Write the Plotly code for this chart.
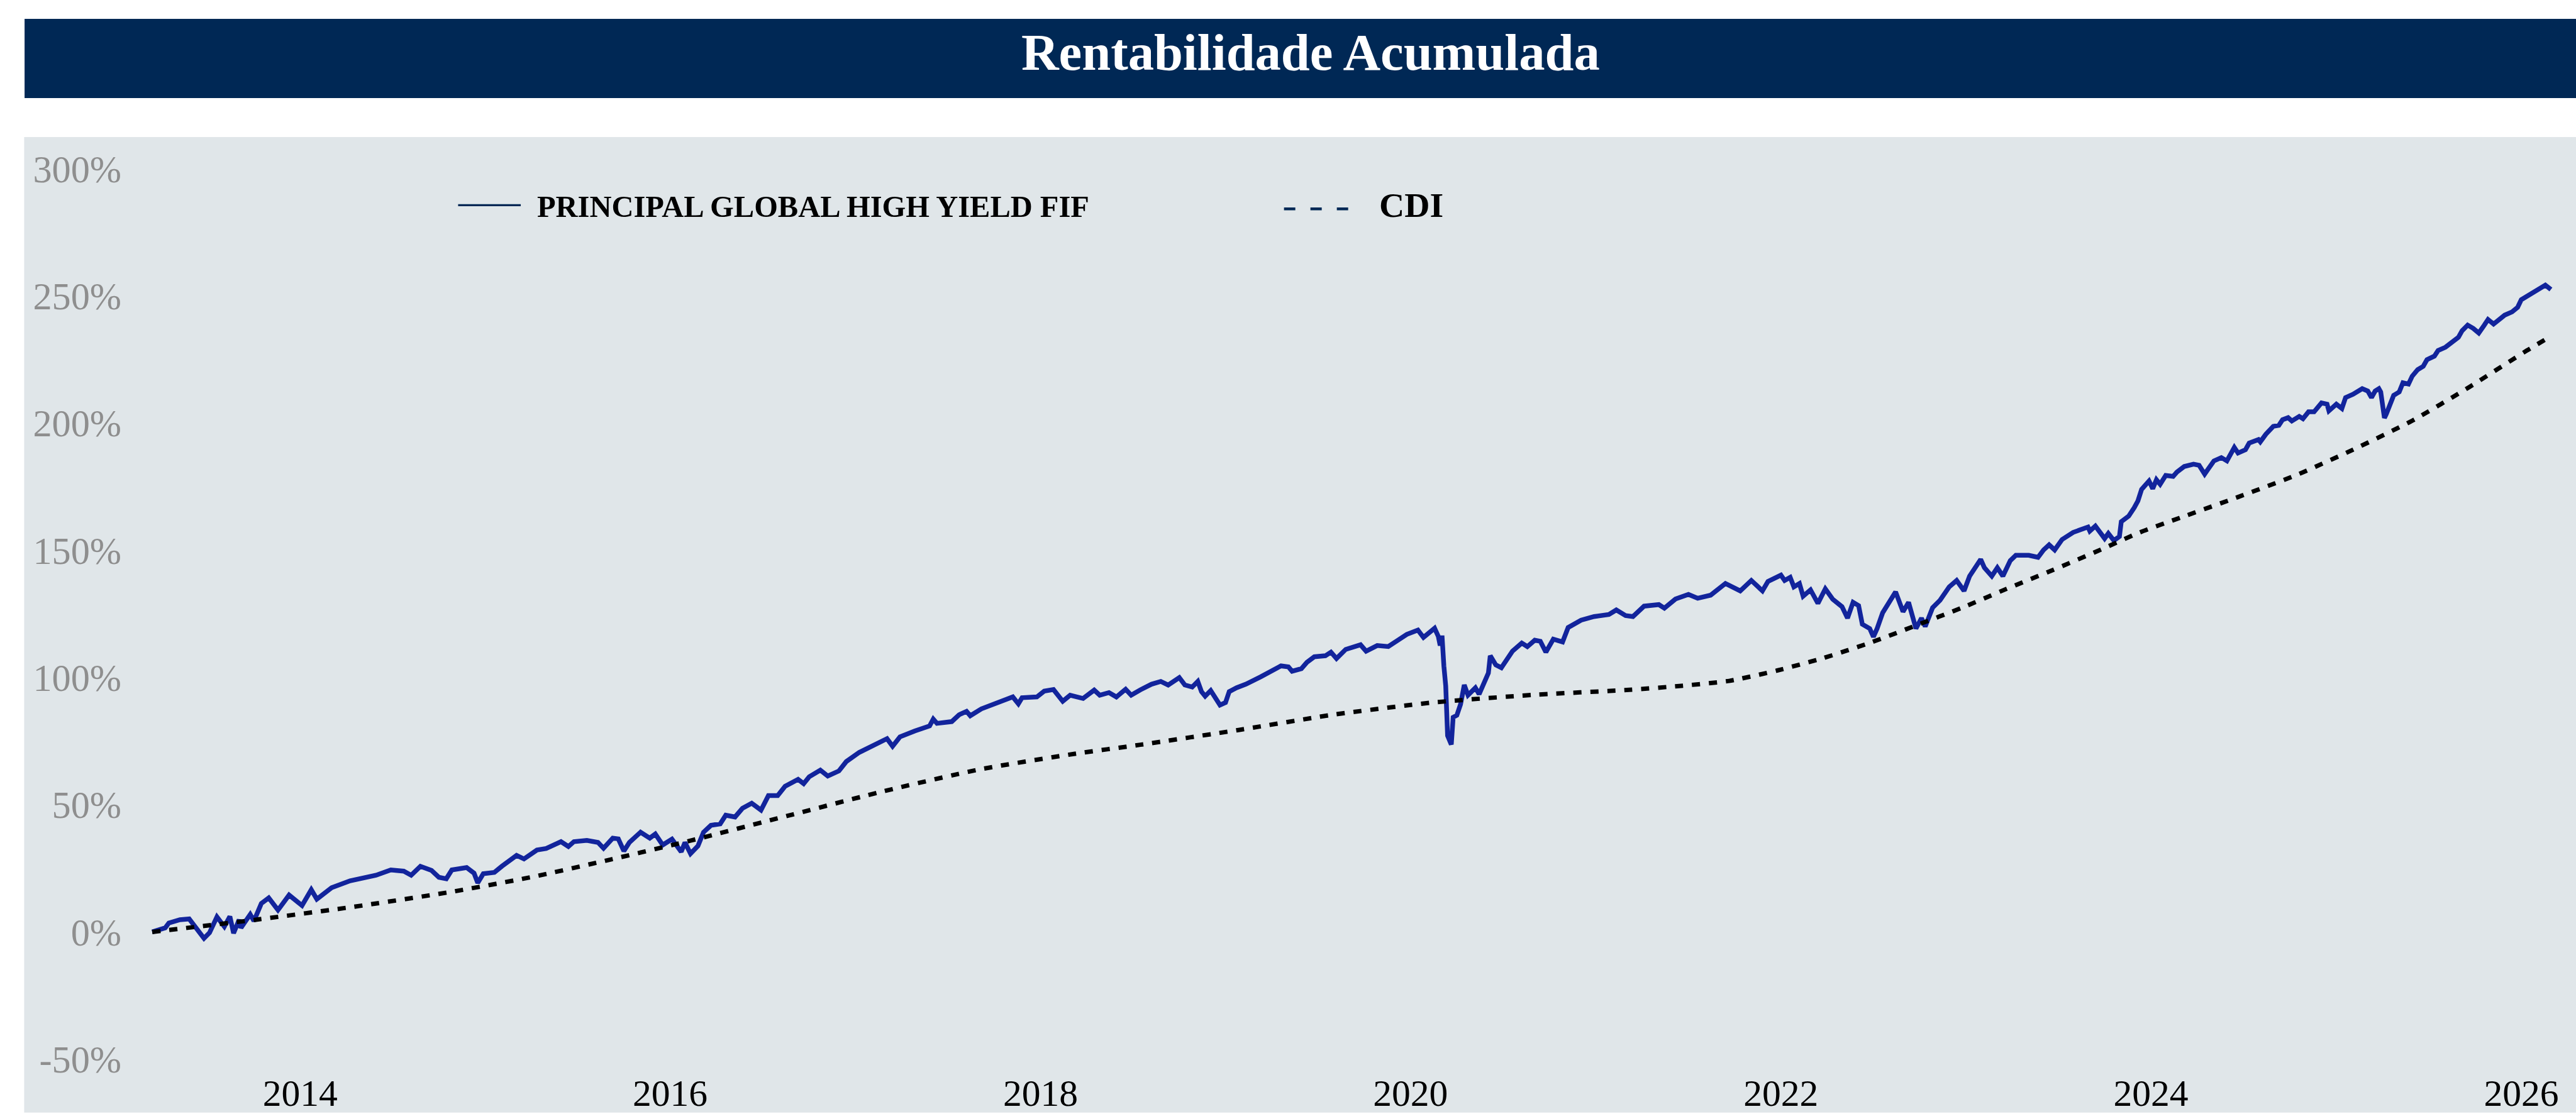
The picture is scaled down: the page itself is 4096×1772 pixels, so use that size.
import plotly.graph_objects as go
import pandas as pd

# ---------------- data (decimal year, cumulative return %) ----------------
fund_t = [2013.20, 2013.27, 2013.29, 2013.35, 2013.40, 2013.45, 2013.48, 2013.51, 2013.55, 2013.59,
          2013.62, 2013.64, 2013.67, 2013.68, 2013.73, 2013.75, 2013.79, 2013.83, 2013.88, 2013.94,
          2014.01, 2014.06, 2014.09, 2014.17, 2014.27, 2014.41, 2014.49, 2014.56, 2014.60, 2014.65,
          2014.71, 2014.75, 2014.79, 2014.82, 2014.90, 2014.94, 2014.96, 2014.99, 2015.05, 2015.09,
          2015.17, 2015.21, 2015.28, 2015.33, 2015.41, 2015.45, 2015.48, 2015.55, 2015.61, 2015.64,
          2015.69, 2015.72, 2015.75, 2015.78, 2015.84, 2015.89, 2015.92, 2015.96, 2016.01, 2016.06,
          2016.08, 2016.11, 2016.15, 2016.18, 2016.22, 2016.27, 2016.30, 2016.35, 2016.39, 2016.44,
          2016.49, 2016.53, 2016.58, 2016.62, 2016.69, 2016.72, 2016.75, 2016.81, 2016.85, 2016.91,
          2016.95, 2017.02, 2017.14, 2017.17, 2017.20, 2017.24, 2017.32, 2017.40, 2017.42, 2017.44,
          2017.52, 2017.56, 2017.60, 2017.62, 2017.68, 2017.77, 2017.85, 2017.88, 2017.90, 2017.98,
          2018.02, 2018.07, 2018.12, 2018.16, 2018.23, 2018.29, 2018.32, 2018.37, 2018.41, 2018.46,
          2018.49, 2018.54, 2018.60, 2018.65, 2018.69, 2018.75, 2018.78, 2018.82, 2018.85, 2018.87,
          2018.89, 2018.92, 2018.97, 2019.00, 2019.02, 2019.06, 2019.11, 2019.19, 2019.27, 2019.30,
          2019.34, 2019.36, 2019.41, 2019.44, 2019.48, 2019.54, 2019.57, 2019.60, 2019.65, 2019.73,
          2019.76, 2019.82, 2019.88, 2019.93, 2019.98, 2020.04, 2020.07, 2020.13, 2020.15, 2020.16,
          2020.17, 2020.18, 2020.19, 2020.20, 2020.22, 2020.23, 2020.25, 2020.27, 2020.29, 2020.31,
          2020.35, 2020.37, 2020.40, 2020.42, 2020.43, 2020.46, 2020.49, 2020.52, 2020.55, 2020.60,
          2020.63, 2020.67, 2020.70, 2020.73, 2020.77, 2020.82, 2020.85, 2020.92, 2020.99, 2021.07,
          2021.11, 2021.16, 2021.20, 2021.26, 2021.34, 2021.37, 2021.43, 2021.50, 2021.55, 2021.62,
          2021.66, 2021.70, 2021.78, 2021.84, 2021.90, 2021.93, 2022.00, 2022.02, 2022.05, 2022.07,
          2022.10, 2022.12, 2022.16, 2022.20, 2022.24, 2022.28, 2022.33, 2022.36, 2022.39, 2022.42,
          2022.44, 2022.48, 2022.50, 2022.52, 2022.55, 2022.62, 2022.66, 2022.69, 2022.73, 2022.76,
          2022.78, 2022.82, 2022.86, 2022.89, 2022.91, 2022.95, 2022.99, 2023.02, 2023.04, 2023.08,
          2023.10, 2023.14, 2023.17, 2023.20, 2023.24, 2023.27, 2023.34, 2023.39, 2023.42, 2023.45,
          2023.48, 2023.52, 2023.58, 2023.66, 2023.67, 2023.70, 2023.75, 2023.77, 2023.80, 2023.83,
          2023.84, 2023.88, 2023.91, 2023.93, 2023.95, 2023.97, 2023.99, 2024.01, 2024.03, 2024.05,
          2024.08, 2024.12, 2024.14, 2024.18, 2024.23, 2024.26, 2024.29, 2024.31, 2024.34, 2024.38,
          2024.41, 2024.45, 2024.47, 2024.51, 2024.53, 2024.58, 2024.59, 2024.62, 2024.66, 2024.69,
          2024.71, 2024.74, 2024.76, 2024.80, 2024.82, 2024.85, 2024.88, 2024.92, 2024.95, 2024.96,
          2025.00, 2025.03, 2025.05, 2025.09, 2025.14, 2025.17, 2025.19, 2025.21, 2025.23, 2025.24,
          2025.25, 2025.26, 2025.27, 2025.29, 2025.30, 2025.31, 2025.34, 2025.36, 2025.39, 2025.41,
          2025.44, 2025.47, 2025.49, 2025.53, 2025.55, 2025.59, 2025.62, 2025.66, 2025.68, 2025.71,
          2025.74, 2025.77, 2025.80, 2025.82, 2025.85, 2025.88, 2025.91, 2025.95, 2025.98, 2026.00,
          2026.03, 2026.06, 2026.10, 2026.13, 2026.16]
fund_v = [0.0, 1.6, 3.5, 4.8, 5.1, 0.5, -2.5, -0.3, 5.9, 2.1,
          6.1, -0.5, 4.8, 1.6, 6.9, 4.3, 11.2, 13.4, 8.6, 14.5,
          10.4, 16.6, 12.9, 17.4, 20.1, 22.3, 24.4, 23.9, 22.3, 25.8,
          24.2, 21.5, 20.9, 24.4, 25.3, 23.1, 19.3, 22.9, 23.4, 25.8,
          30.1, 28.7, 32.2, 32.8, 35.5, 33.6, 35.5, 36.0, 35.2, 32.9,
          36.9, 36.6, 31.8, 35.2, 39.2, 36.9, 38.5, 34.2, 36.5, 31.5,
          35.2, 30.8, 33.8, 39.2, 41.9, 42.5, 45.9, 45.2, 48.6, 50.6,
          47.9, 53.6, 53.6, 57.3, 60.0, 58.3, 61.0, 63.6, 61.3, 63.3,
          67.0, 70.6, 74.6, 76.0, 73.0, 76.7, 79.0, 81.0, 83.7, 82.0,
          82.7, 85.4, 86.7, 85.0, 87.7, 90.4, 92.4, 89.7, 92.1, 92.4,
          94.7, 95.3, 90.7, 93.1, 91.8, 95.1, 93.1, 94.1, 92.4, 95.4,
          93.1, 95.2, 97.4, 98.5, 97.1, 100.0, 97.1, 96.3, 98.5, 94.5,
          92.7, 94.9, 89.2, 90.2, 94.5, 96.0, 97.4, 100.3, 103.2, 104.6,
          104.2, 102.5, 103.5, 106.0, 108.2, 108.6, 110.0, 107.5, 111.1, 112.9,
          110.4, 112.6, 112.2, 114.4, 117.0, 118.7, 115.8, 119.4, 116.2, 112.6,
          116.5, 104.6, 96.7, 77.2, 73.7, 84.4, 85.2, 89.5, 97.1, 93.1,
          96.0, 93.5, 98.9, 101.8, 108.6, 105.0, 103.9, 106.8, 110.4, 113.6,
          112.2, 114.7, 114.3, 110.0, 115.1, 114.0, 119.7, 122.6, 124.0, 124.8,
          126.6, 124.4, 124.0, 128.1, 128.7, 127.3, 130.9, 132.7, 131.2, 132.4,
          134.9, 137.0, 134.1, 138.2, 134.1, 137.8, 140.3, 138.2, 139.4, 135.7,
          137.0, 132.0, 134.5, 129.2, 134.9, 130.8, 127.9, 123.4, 129.6, 128.3,
          121.0, 119.3, 116.0, 119.3, 125.5, 133.7, 125.9, 129.6, 119.3, 123.4,
          120.1, 127.5, 130.4, 134.1, 135.7, 138.2, 134.1, 139.9, 142.0, 146.5,
          143.2, 139.9, 143.2, 139.9, 146.0, 148.1, 148.1, 147.3, 150.2, 152.2,
          150.2, 154.3, 157.1, 159.2, 157.6, 159.6, 154.7, 156.7, 153.9, 155.5,
          161.3, 163.5, 166.8, 169.5, 174.0, 176.0, 177.3, 174.3, 177.8, 176.0,
          179.5, 179.1, 180.8, 183.0, 183.9, 183.5, 180.0, 182.1, 185.2, 186.5,
          185.2, 190.5, 188.3, 189.6, 192.2, 193.6, 192.7, 195.7, 198.8, 199.2,
          201.4, 202.2, 200.9, 202.7, 201.8, 204.5, 204.5, 208.0, 207.5, 204.9,
          207.5, 205.8, 210.1, 211.4, 213.6, 212.7, 210.1, 212.7, 213.6, 212.3,
          205.8, 202.1, 203.6, 207.5, 208.4, 211.0, 212.3, 215.9, 215.4, 218.5,
          221.1, 222.4, 225.0, 226.4, 228.6, 229.9, 231.6, 233.8, 236.4, 238.6,
          237.3, 235.5, 238.6, 240.8, 239.0, 240.8, 242.5, 243.8, 245.6, 248.6,
          249.9, 250.9, 253.0, 254.3, 252.6]

cdi_t = [2013.20, 2013.76, 2014.29, 2014.82, 2015.26, 2015.68, 2016.11, 2016.63, 2017.15, 2017.67,
         2018.18, 2018.54, 2019.07, 2019.59, 2020.12, 2020.66, 2021.18, 2021.45, 2021.72, 2021.98,
         2022.23, 2022.49, 2022.73, 2022.98, 2023.22, 2023.47, 2023.71, 2023.94, 2024.16, 2024.47,
         2024.78, 2025.09, 2025.41, 2025.72, 2026.03, 2026.15]
cdi_v = [0.0, 4.8, 9.9, 15.8, 21.7, 28.5, 35.9, 45.6, 55.3, 63.9,
         70.0, 73.6, 79.4, 85.5, 90.2, 93.2, 95.2, 96.7, 98.7, 102.8,
         107.7, 113.9, 120.5, 127.5, 134.9, 142.3, 149.7, 157.1, 162.9, 171.0,
         179.5, 189.6, 201.0, 214.3, 228.6, 233.8]

series_names = ["PRINCIPAL GLOBAL HIGH YIELD FIF", "CDI"]
title_text = "Rentabilidade Acumulada"
x_tick_years = [2014, 2016, 2018, 2020, 2022, 2024, 2026]
y_tick_vals = [-50, 0, 50, 100, 150, 200, 250, 300]


def yr2date(y):
    yi = int(y)
    start = pd.Timestamp(yi, 1, 1)
    ndays = (pd.Timestamp(yi + 1, 1, 1) - start).days
    return start + pd.Timedelta(days=(y - yi) * ndays)


# ---------------- layout geometry (reference px -> output px) ----------------
W, H = 4096, 1772
S = W / 6251.0
ML = 330 * S
MT = 333 * S
MB = H - 2600 * S
MR = 0
PW = W - ML - MR
PH = H - MT - MB


def px(xr):
    return (xr * S - ML) / PW


def py(yr):
    return (H - MB - yr * S) / PH


FONT = "Liberation Serif, Times New Roman, serif"
NAVY = "#002855"
BG = "#E0E6E9"
BLUE = "#12249C"

fig = go.Figure()
fig.add_trace(go.Scatter(
    x=[yr2date(t) for t in fund_t], y=fund_v, mode="lines", name=series_names[0],
    line=dict(color=BLUE, width=7.5), showlegend=False))
fig.add_trace(go.Scatter(
    x=[yr2date(t) for t in cdi_t], y=cdi_v, mode="lines", name=series_names[1],
    line=dict(color="#000000", width=7, dash="13px,14px", shape="spline", smoothing=0.6),
    showlegend=False))

shapes = [
    # grey panel
    dict(type="rect", xref="paper", yref="paper", x0=px(59), x1=px(6260), y0=py(2710), y1=py(333),
         fillcolor=BG, line=dict(width=0), layer="below"),
    # title banner
    dict(type="rect", xref="paper", yref="paper", x0=px(60), x1=px(6260), y0=py(238), y1=py(45),
         fillcolor=NAVY, line=dict(width=0), layer="above"),
    # legend symbols
    dict(type="line", xref="paper", yref="paper", x0=px(1112), x1=px(1264), y0=py(499), y1=py(499),
         line=dict(color=NAVY, width=5 * S), layer="above"),
    dict(type="line", xref="paper", yref="paper", x0=px(3116), x1=px(3273), y0=py(508), y1=py(508),
         line=dict(color=NAVY, width=7 * S, dash="18px,24px"), layer="above"),
]

annotations = [
    dict(text="<b>" + title_text + "</b>", xref="paper", yref="paper", x=px(3180), y=py(126.5),
         xanchor="center", yanchor="middle", showarrow=False,
         font=dict(family=FONT, size=126 * S, color="white")),
    dict(text="<b>" + series_names[0] + "</b>", xref="paper", yref="paper", x=px(1300), y=py(502),
         xanchor="left", yanchor="middle", showarrow=False,
         font=dict(family=FONT, size=74 * S, color="#000000")),
    dict(text="<b>" + series_names[1] + "</b>", xref="paper", yref="paper", x=px(3344), y=py(498),
         xanchor="left", yanchor="middle", showarrow=False,
         font=dict(family=FONT, size=85 * S, color="#000000")),
]

x0_year = 2014 + (330 - 729) / 449.1
x1_year = 2014 + (6251 - 729) / 449.1
y_top = 300 + (410.7 - 333) / 6.197
y_bot = -50 - (2600 - 2579.6) / 6.197

fig.update_layout(
    width=W, height=H,
    margin=dict(l=ML, r=MR, t=MT, b=MB, pad=0),
    paper_bgcolor="white", plot_bgcolor=BG,
    shapes=shapes, annotations=annotations,
    showlegend=False,
    xaxis=dict(type="date", range=[yr2date(x0_year), yr2date(x1_year)],
               tickvals=[pd.Timestamp(y, 1, 1) for y in x_tick_years],
               ticktext=[str(y) for y in x_tick_years],
               showgrid=False, zeroline=False, showline=False, ticks="",
               tickfont=dict(family=FONT, size=91 * S, color="#000000"),
               ticklabelstandoff=0),
    yaxis=dict(range=[y_bot, y_top], tickvals=y_tick_vals,
               ticktext=[f"{v}%" for v in y_tick_vals],
               showgrid=False, zeroline=False, showline=False, ticks="",
               tickfont=dict(family=FONT, size=92 * S, color="#8E8E8E"),
               ticklabelstandoff=22),
)

fig.write_html("out.html")
